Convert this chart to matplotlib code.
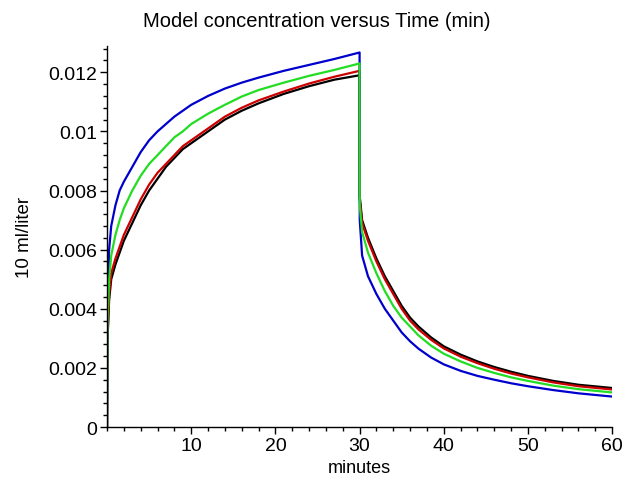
import numpy as np
import matplotlib.pyplot as plt

plt.rcParams['font.family'] = ['Liberation Sans', 'DejaVu Sans']

# infusion phase (0-30 min) and washout phase (30-60 min)
t_rise = [0, 0.05, 0.25, 0.5, 1, 1.5, 2, 3, 4, 5, 6, 7, 8, 9, 10, 12, 14, 16, 18, 21, 24, 27, 30]
t_fall = [30, 30.02, 30.3, 31, 32, 33, 34, 35, 36, 37, 38.5, 40, 42, 44, 46, 48, 50, 53, 56, 60]

blue_rise = [0, 0.0040, 0.0060, 0.0068, 0.0075, 0.0080, 0.0083, 0.0088, 0.0093, 0.0097, 0.0100,
             0.01025, 0.0105, 0.0107, 0.0109, 0.01120, 0.01145, 0.01165, 0.01182, 0.01205,
             0.01225, 0.01245, 0.01267]
green_rise = [0, 0.0035, 0.0050, 0.0058, 0.0065, 0.0070, 0.0074, 0.0080, 0.0085, 0.0089, 0.0092,
              0.0095, 0.0098, 0.0100, 0.01025, 0.0106, 0.0109, 0.01118, 0.01140, 0.01165,
              0.01188, 0.01208, 0.0123]
red_rise = [0, 0.0030, 0.0045, 0.0052, 0.0057, 0.0061, 0.0065, 0.0071, 0.0077, 0.0082, 0.0086,
            0.0089, 0.0092, 0.0095, 0.0097, 0.0101, 0.0105, 0.01080, 0.01105, 0.01135,
            0.01162, 0.01185, 0.01205]
black_rise = [0, 0.0029, 0.0043, 0.0050, 0.0055, 0.0059, 0.0063, 0.0069, 0.0075, 0.0080, 0.0084,
              0.0088, 0.0091, 0.0094, 0.0096, 0.0100, 0.0104, 0.01070, 0.01095, 0.01127,
              0.01153, 0.01175, 0.0119]

blue_fall = [0.01267, 0.0070, 0.0058, 0.0051, 0.0045, 0.0040, 0.0036, 0.0032, 0.0029, 0.00265,
             0.00235, 0.00212, 0.00190, 0.00173, 0.00160, 0.00148, 0.00138, 0.00125, 0.00114,
             0.00103]
green_fall = [0.0123, 0.0075, 0.0066, 0.0059, 0.0052, 0.0046, 0.0041, 0.0037, 0.0034, 0.0031,
              0.00275, 0.00248, 0.00222, 0.00200, 0.00183, 0.00168, 0.00156, 0.00140, 0.00128,
              0.00117]
red_fall = [0.01205, 0.0077, 0.0069, 0.0063, 0.0056, 0.0050, 0.0045, 0.0040, 0.0036, 0.0033,
            0.00295, 0.00266, 0.00238, 0.00216, 0.00197, 0.00181, 0.00168, 0.00151, 0.00138,
            0.00127]
black_fall = [0.0119, 0.0078, 0.0070, 0.0064, 0.0057, 0.0051, 0.0046, 0.0041, 0.0037, 0.0034,
              0.00303, 0.00273, 0.00245, 0.00222, 0.00203, 0.00187, 0.00173, 0.00156, 0.00143,
              0.00132]

y_ticks = [0, 0.002, 0.004, 0.006, 0.008, 0.01, 0.012]
y_labels = ['0', '0.002', '0.004', '0.006', '0.008', '0.01', '0.012']
x_ticks = [10, 20, 30, 40, 50, 60]
x_labels = ['10', '20', '30', '40', '50', '60']

fig = plt.figure(figsize=(6.24, 4.89), dpi=100)
ax = fig.add_axes([0.1715, 0.1247, 0.8095, 0.7798])

t = t_rise + t_fall[1:]
curves = [
    (black_rise + black_fall[1:], 'black'),
    (red_rise + red_fall[1:], '#cc0000'),
    (blue_rise + blue_fall[1:], '#0000cc'),
    (green_rise + green_fall[1:], '#22dd22'),
]
for vals, col in curves:
    ax.plot(t, vals, color=col, lw=1.6)

ax.set_xlim(0, 60)
ax.set_ylim(0, 0.0129)
for s in ['top', 'right']:
    ax.spines[s].set_visible(False)
for s in ['left', 'bottom']:
    ax.spines[s].set_linewidth(1.0)

ax.set_xticks(x_ticks)
ax.set_xticklabels(x_labels)
ax.set_xticks(np.arange(0, 61, 2), minor=True)
ax.set_yticks(y_ticks)
ax.set_yticklabels(y_labels)
ax.set_yticks(np.arange(0, 0.01295, 0.0004), minor=True)
ax.tick_params(which='major', length=5, width=1, labelsize=14, pad=2)
ax.tick_params(which='minor', length=3, width=1)

ax.set_xlabel('minutes', fontsize=13, labelpad=4)
ax.set_ylabel('10 ml/liter', fontsize=13.5, labelpad=11)
fig.suptitle('Model concentration versus Time (min)', fontsize=14.5, x=0.508, y=0.975)

fig.savefig('out.png', dpi=100)
